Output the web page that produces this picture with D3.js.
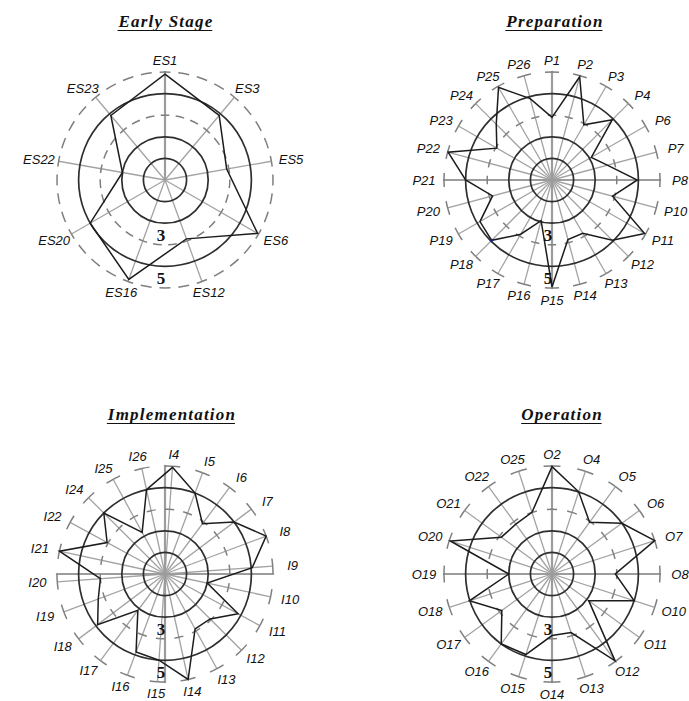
<!DOCTYPE html>
<html><head><meta charset="utf-8">
<script src="https://cdn.jsdelivr.net/npm/d3@7"></script>
<style>body{margin:0;background:#fff} svg{display:block}</style>
</head><body>
<svg id="chart" width="689" height="701"></svg>
<script>
// ---- data ----
const esLabels = ["ES1","ES3","ES5","ES6","ES12","ES16","ES20","ES22","ES23"];
const esValues = [4.9,3.9,2.9,4.95,2.9,4.9,4.0,2.0,3.9];
const pLabels = ["P1","P2","P3","P4","P6","P7","P8","P10","P11","P12","P13","P14","P15","P16","P17","P18","P19","P20","P21","P22","P23","P24","P25","P26"];
const pValues = [2.9,4.95,2.95,3.95,2.1,2.65,3.95,2.9,4.95,3.95,2.85,2.85,4.95,1.95,2.9,3.95,3.85,2.85,4.0,4.98,2.95,3.65,4.95,3.9];
const iLabels = ["I4","I5","I6","I7","I8","I9","I10","I11","I12","I13","I14","I15","I16","I17","I18","I19","I20","I21","I22","I24","I25","I26"];
const iValues = [4.95,4.0,2.9,4.0,5.0,4.05,2.0,3.85,2.95,2.9,5.0,4.0,3.85,2.1,3.9,3.3,3.0,5.0,3.05,4.0,2.2,4.0];
const oLabels = ["O2","O4","O5","O6","O7","O8","O10","O11","O12","O13","O14","O15","O16","O17","O18","O19","O20","O21","O22","O25"];
const oValues = [4.97,4.0,2.96,4.0,5.0,2.93,4.0,2.1,4.97,2.85,2.85,3.92,4.0,2.87,4.02,2.0,4.95,2.9,2.85,3.0];
const ringValues = [1,2,3,4,5];
const dashedRings = [3,5];
const axisTickLabels = [3,5];
const titles = ["Early Stage","Preparation","Implementation","Operation"];

// ---- layout ----
const panels = [
  {title:titles[0], labels:esLabels, values:esValues, cx:165, cy:180, rot:0, cross:false, tx:166, ty:27},
  {title:titles[1], labels:pLabels, values:pValues, cx:552, cy:180, rot:0, cross:true, tx:555, ty:27},
  {title:titles[2], labels:iLabels, values:iValues, cx:165, cy:574, rot:4, cross:true, tx:172, ty:420},
  {title:titles[3], labels:oLabels, values:oValues, cx:552, cy:574, rot:0, cross:true, tx:562, ty:420}
];

const svg = d3.select("#chart");
const r = d3.scaleLinear().domain([0,5]).range([0,108]);

function drawPanel(p){
  const g = svg.append("g").attr("transform",`translate(${p.cx},${p.cy})`);
  const n = p.labels.length;
  const a0 = p.rot*Math.PI/180;
  const ang = d3.scaleLinear().domain([0,n]).range([a0, a0+2*Math.PI]);

  // spokes
  g.append("g").selectAll("line").data(p.labels).join("line")
    .attr("x1",0).attr("y1",0)
    .attr("x2",(d,i)=>Math.sin(ang(i))*r(5))
    .attr("y2",(d,i)=>-Math.cos(ang(i))*r(5))
    .attr("stroke","#a3a3a3").attr("stroke-width",1.3);

  // axis cross / value axis
  const axLen = r(5.05);
  const crossLines = p.cross ? [[0,-axLen,0,axLen],[-axLen,0,axLen,0]] : [[0,0,0,-axLen]];
  g.append("g").selectAll("line").data(crossLines).join("line")
    .attr("x1",d=>d[0]).attr("y1",d=>d[1]).attr("x2",d=>d[2]).attr("y2",d=>d[3])
    .attr("stroke","#9c9c9c").attr("stroke-width",2.2);

  // solid rings
  g.append("g").selectAll("circle").data(ringValues.filter(v=>!dashedRings.includes(v))).join("circle")
    .attr("r",d=>r(d)).attr("fill","none").attr("stroke","#2e2e2e").attr("stroke-width",1.7);

  // dashed rings: arcs between adjacent spokes, dash centred on each spoke
  const segs = [];
  dashedRings.forEach(v=>{
    for(let i=0;i<n;i++) segs.push({v, a1:ang(i), a2:ang(i+1)});
  });
  g.append("g").selectAll("path").data(segs).join("path")
    .attr("d",d=>{ const pth=d3.path(); const rr=r(d.v);
      pth.moveTo(Math.cos(d.a1-Math.PI/2)*rr, Math.sin(d.a1-Math.PI/2)*rr);
      pth.arc(0,0,rr,d.a1-Math.PI/2,d.a2-Math.PI/2); return pth.toString(); })
    .each(function(d){
      const L = r(d.v)*(d.a2-d.a1);
      const k = L>40 ? Math.round(L/17) : 1;
      const per = L/k, dash = per*(k>1?0.58:0.5), gap = per-dash;
      d3.select(this).attr("stroke-dasharray",`${dash} ${gap}`).attr("stroke-dashoffset",dash/2);
    })
    .attr("fill","none").attr("stroke","#7f7f7f").attr("stroke-width",1.5);

  // data polygon
  const radial = d3.lineRadial().curve(d3.curveLinearClosed)
    .angle((d,i)=>ang(i)).radius(d=>r(d));
  g.append("path").datum(p.values).attr("d",radial)
    .attr("fill","none").attr("stroke","#1c1c1c").attr("stroke-width",1.5).attr("stroke-linejoin","miter");

  // category labels
  g.append("g").selectAll("text").data(p.labels).join("text")
    .attr("x",(d,i)=>Math.sin(ang(i))*(r(5)+20))
    .attr("y",(d,i)=>-Math.cos(ang(i))*(r(5)+12))
    .attr("text-anchor","middle").attr("dominant-baseline","central")
    .attr("font-family","'Liberation Sans', Arial, sans-serif").attr("font-style","italic")
    .attr("font-size",13).attr("fill","#111").text(d=>d);

  // value tick labels
  g.append("g").selectAll("text").data(axisTickLabels).join("text")
    .attr("x",-4).attr("y",d=>r(d)-4)
    .attr("text-anchor","middle")
    .attr("font-family","'Liberation Serif', 'Times New Roman', serif").attr("font-weight","bold")
    .attr("font-size",17).attr("fill","#111").text(d=>d);

  // title with underline
  const t = svg.append("text").attr("x",p.tx).attr("y",p.ty).attr("text-anchor","middle")
    .attr("font-family","'Liberation Serif', 'Times New Roman', serif")
    .attr("font-weight","bold").attr("font-style","italic").attr("font-size",17)
    .attr("letter-spacing","1.2px").attr("fill","#111").text(p.title);
  const bb = t.node().getBBox();
  svg.append("line").attr("x1",bb.x).attr("x2",bb.x+bb.width-1.2)
    .attr("y1",p.ty+3.5).attr("y2",p.ty+3.5).attr("stroke","#111").attr("stroke-width",1.2);
}

panels.forEach(drawPanel);

// small marker visible on the Preparation line
const pp = panels[1];
const pAng = (2*Math.PI/pLabels.length)*pLabels.indexOf("P18");
svg.append("circle").attr("cx",pp.cx+Math.sin(pAng)*r(pValues[pLabels.indexOf("P18")]))
  .attr("cy",pp.cy-Math.cos(pAng)*r(pValues[pLabels.indexOf("P18")])).attr("r",1.6).attr("fill","#1a237e");
</script>
</body></html>
